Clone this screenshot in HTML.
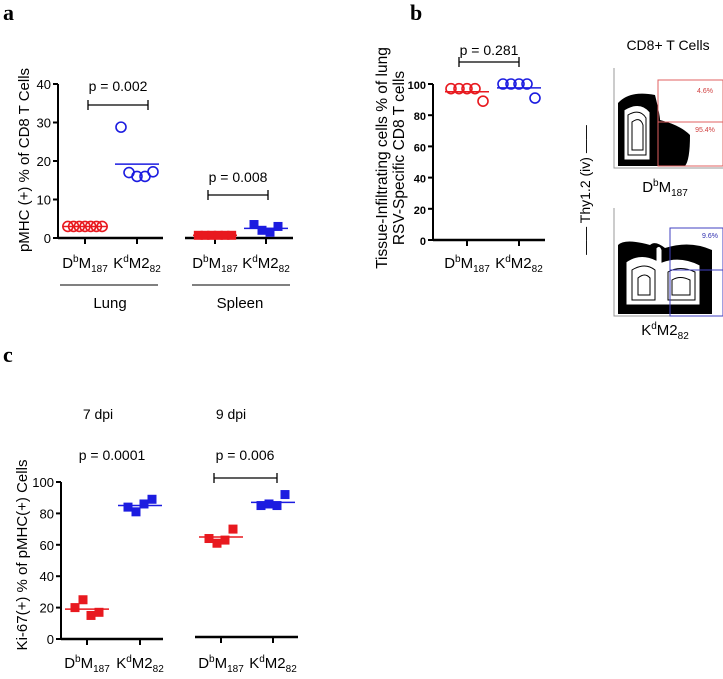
<!DOCTYPE html>
<html><head><meta charset="utf-8"><style>
body{margin:0;background:#fff;width:723px;height:674px;overflow:hidden}
svg{font-family:"Liberation Sans",sans-serif}
.pl{font-family:"Liberation Serif",serif;font-weight:bold;font-size:22px}
</style></head><body>
<svg id="fig" width="723" height="674" viewBox="0 0 723 674">
<text class="pl" x="3" y="20">a</text>
<text class="pl" x="410" y="20">b</text>
<text class="pl" x="3" y="362">c</text>
<g id="flow">
<text x="668" y="50" font-size="14" text-anchor="middle">CD8+ T Cells</text>
<text transform="translate(590,190) rotate(-90)" font-size="14" text-anchor="middle">—— Thy1.2 (iv) ——</text>
<g>
<path d="M614,68 V168 H723" stroke="#999" fill="none"/>
<path d="M618,166 L618,103 Q630,90 655,95 Q660,115 660,120 Q680,125 690,135 Q690,160 685,166 Z" fill="#000"/>
<path d="M624,160 V110 Q640,100 650,112 V160 Z" fill="#fff" stroke="#000"/>
<path d="M628,155 V115 Q640,108 646,118 V155 Z" fill="none" stroke="#000"/>
<path d="M632,150 V122 Q640,116 643,125 V150 Z" fill="none" stroke="#000"/>
<rect x="658" y="80" width="65" height="86" fill="none" stroke="#e06060"/>
<line x1="658" y1="122" x2="723" y2="122" stroke="#e06060"/>
<text x="705" y="93" font-size="7" fill="#d04040" text-anchor="middle">4.6%</text>
<text x="705" y="132" font-size="7" fill="#d04040" text-anchor="middle">95.4%</text>
</g>
<text x="665" y="192" font-size="15" text-anchor="middle">D<tspan font-size="10" dy="-6">b</tspan><tspan dy="6">M</tspan><tspan font-size="10" dy="4">187</tspan></text>
<g>
<path d="M614,208 V316 H723" stroke="#999" fill="none"/>
<path d="M618,314 V245 Q625,238 650,245 Q655,240 665,248 Q690,240 712,250 V314 Z" fill="#000"/>
<path d="M626,305 V262 Q640,252 656,260 V248 Q660,244 662,250 V262 Q680,255 700,265 V305 Z" fill="#fff" stroke="#000"/>
<path d="M632,300 V270 Q645,262 655,270 V300 Z M668,300 V272 Q680,265 695,272 V300 Z" fill="none" stroke="#000"/>
<path d="M638,295 V278 Q645,272 650,278 V295 Z M672,295 V280 Q680,275 690,280 V295 Z" fill="none" stroke="#000"/>
<rect x="670" y="228" width="53" height="88" fill="none" stroke="#4040c0"/>
<line x1="670" y1="270" x2="723" y2="270" stroke="#4040c0"/>
<text x="710" y="238" font-size="7" fill="#3030b0" text-anchor="middle">9.6%</text>
</g>
<text x="665" y="335" font-size="15" text-anchor="middle">K<tspan font-size="10" dy="-6">d</tspan><tspan dy="6">M2</tspan><tspan font-size="10" dy="4">82</tspan></text>
</g>
</svg>
<script>
const NS="http://www.w3.org/2000/svg";
const svg=document.getElementById('fig');
// Panel a data
const aLungDb=[3,3,3,3,3,3,3], aLungDbMean=3;
const aLungKd=[28.8,17,16,16,17.2], aLungKdMean=19.2;
const aSplDb=[0.7,0.7,0.7,0.7,0.7,0.7], aSplDbMean=0.7;
const aSplKd=[3.5,2,1.5,3], aSplKdMean=2.5;
const aTicks=[0,10,20,30,40];
// Panel b data
const bDb=[97,97,97,97,89], bDbMean=95;
const bKd=[100,100,100,100,91], bKdMean=97.5;
const bTicks=[0,20,40,60,80,100];
// Panel c data
const c7Db=[20,25,15,17], c7DbMean=19;
const c7Kd=[84,81,86,89], c7KdMean=85;
const c9Db=[64,61,63,70], c9DbMean=65;
const c9Kd=[85,86,85,92], c9KdMean=87;
const cTicks=[0,20,40,60,80,100];
const RED='#e8191f', BLUE='#1c1ce0';

function el(t,a,p){const e=document.createElementNS(NS,t);for(const k in a)e.setAttribute(k,a[k]);(p||svg).appendChild(e);return e;}
function txt(s,x,y,a,p){const e=el('text',Object.assign({x:x,y:y},a),p);e.textContent=s;return e;}
function sy(y0,y1,vmax){return v=>y0-(y0-y1)*v/vmax;}
function lbl(g,x,y,kind){const t=el('text',{x:x,y:y,'font-size':15,'text-anchor':'middle'},g);
 
 t.innerHTML=kind==='db'?'D<tspan font-size="10" dy="-6">b</tspan><tspan dy="6">M</tspan><tspan font-size="10" dy="4">187</tspan>':'K<tspan font-size="10" dy="-6">d</tspan><tspan dy="6">M2</tspan><tspan font-size="10" dy="4">82</tspan>';}
function yaxis(g,x,Y,ticks,x0,bold){el('line',{x1:x,y1:Y(ticks[ticks.length-1]),x2:x,y2:Y(0),stroke:'#000','stroke-width':2},g);
 ticks.forEach(v=>{el('line',{x1:x-5,y1:Y(v),x2:x,y2:Y(v),stroke:'#000','stroke-width':2},g);
 const t=txt(String(v),x-7,Y(v)+5,{'font-size':bold?11:13,'text-anchor':'end','font-weight':bold?'bold':'normal'},g);
 });}
function xaxis(g,x1,x2,y,tx){el('line',{x1:x1,y1:y,x2:x2,y2:y,stroke:'#000','stroke-width':2.5},g);
 tx.forEach(x=>el('line',{x1:x,y1:y,x2:x,y2:y+6,stroke:'#000','stroke-width':2},g));}
function pts(g,cx,vals,mean,Y,col,shape,name){
 const n=vals.length, sp=Math.min(8,40/n);
 vals.forEach((v,i)=>{const x=cx+(i-(n-1)/2)*sp;let m;
  if(shape==='c')m=el('circle',{cx:x,cy:Y(v),r:5,fill:'none',stroke:col,'stroke-width':1.6},g);
  else m=el('rect',{x:x-4.5,y:Y(v)-4.5,width:9,height:9,fill:col},g);
  });
 const l=el('line',{x1:cx-22,y1:Y(mean),x2:cx+22,y2:Y(mean),stroke:col,'stroke-width':1.5},g);
 }
function bracket(g,x1,x2,y){el('path',{d:`M${x1},${y-5}V${y+5}M${x1},${y}H${x2}M${x2},${y-5}V${y+5}`,stroke:'#000','stroke-width':1.3,fill:'none'},g);}
function ptxt(g,s,x,y){const t=txt(s,x,y,{'font-size':14,'text-anchor':'middle'},g);}

// Panel a
const ga=el('g',{});
const Ya=sy(238,84,40);
yaxis(ga,58,Ya,aTicks,0,false);
xaxis(ga,58,163,238,[85,137]);xaxis(ga,185,293,238,[215,266]);
pts(ga,85,aLungDb,aLungDbMean,Ya,RED,'c','lung-dbm187');
pts(ga,137,aLungKd,aLungKdMean,Ya,BLUE,'c','lung-kdm282');
pts(ga,215,aSplDb,aSplDbMean,Ya,RED,'s','spleen-dbm187');
pts(ga,266,aSplKd,aSplKdMean,Ya,BLUE,'s','spleen-kdm282');
ptxt(ga,'p = 0.002',118,91);bracket(ga,88,148,105);
ptxt(ga,'p = 0.008',238,182);bracket(ga,208,268,195);
lbl(ga,85,268,'db');lbl(ga,137,268,'kd');lbl(ga,215,268,'db');lbl(ga,266,268,'kd');
el('line',{x1:60,y1:285,x2:158,y2:285,stroke:'#000'},ga);el('line',{x1:192,y1:285,x2:290,y2:285,stroke:'#000'},ga);
let t=txt('Lung',110,308,{'font-size':15,'text-anchor':'middle'},ga);
t=txt('Spleen',240,308,{'font-size':15,'text-anchor':'middle'},ga);
t=txt('pMHC (+) % of CD8 T Cells',0,0,{'font-size':15,'text-anchor':'middle',transform:'translate(29,160) rotate(-90)'},ga);

// Panel b
const gb=el('g',{});
const Yb=sy(240,84,100);
yaxis(gb,433,Yb,bTicks,0,true);
xaxis(gb,433,545,240,[467,519]);
pts(gb,467,bDb,bDbMean,Yb,RED,'c','dbm187');
pts(gb,519,bKd,bKdMean,Yb,BLUE,'c','kdm282');
ptxt(gb,'p = 0.281',489,55);bracket(gb,459,519,62);
lbl(gb,467,268,'db');lbl(gb,519,268,'kd');
t=txt('Tissue-Infiltrating cells % of lung',0,0,{'font-size':15.5,'text-anchor':'middle',transform:'translate(387,158) rotate(-90)'},gb);
t=txt('RSV-Specific CD8 T cells',0,0,{'font-size':15.5,'text-anchor':'middle',transform:'translate(404,158) rotate(-90)'},gb);

// Panel c
const gc=el('g',{});
const Yc=sy(639,482,100);
yaxis(gc,61,Yc,cTicks,0,false);
xaxis(gc,61,163,639,[87,140]);xaxis(gc,195,298,637,[221,273]);
pts(gc,87,c7Db,c7DbMean,Yc,RED,'s','d7-dbm187');
pts(gc,140,c7Kd,c7KdMean,Yc,BLUE,'s','d7-kdm282');
pts(gc,221,c9Db,c9DbMean,Yc,RED,'s','d9-dbm187');
pts(gc,273,c9Kd,c9KdMean,Yc,BLUE,'s','d9-kdm282');
ptxt(gc,'p = 0.0001',112,460);ptxt(gc,'p = 0.006',245,460);bracket(gc,214,277,478);
t=txt('7 dpi',98,419,{'font-size':14,'text-anchor':'middle'},gc);
t=txt('9 dpi',231,419,{'font-size':14,'text-anchor':'middle'},gc);
lbl(gc,87,668,'db');lbl(gc,140,668,'kd');lbl(gc,221,668,'db');lbl(gc,273,668,'kd');
t=txt('Ki-67(+) % of pMHC(+) Cells',0,0,{'font-size':15,'text-anchor':'middle',transform:'translate(27,555) rotate(-90)'},gc);
</script>
</body></html>
